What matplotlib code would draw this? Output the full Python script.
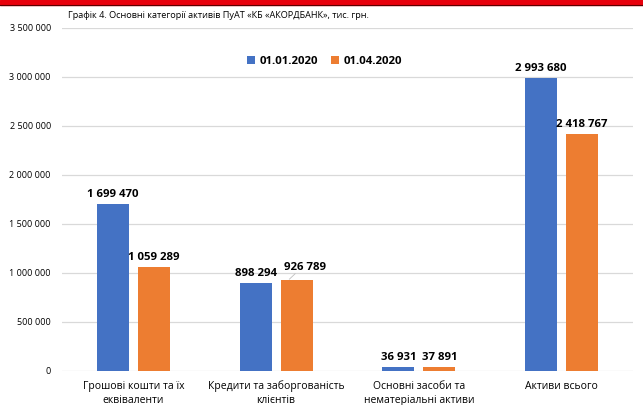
import numpy as np
import matplotlib.pyplot as plt
from matplotlib.patches import Rectangle
from matplotlib.lines import Line2D

categories = ["Грошові кошти та їх\nеквіваленти",
              "Кредити та заборгованість\nклієнтів",
              "Основні засоби та\nнематеріальні активи",
              "Активи всього"]
series_names = ["01.01.2020", "01.04.2020"]
values_jan = [1699470, 898294, 36931, 2993680]
values_apr = [1059289, 926789, 37891, 2418767]
colors = ["#4472C4", "#ED7D31"]
yticks = [0, 500000, 1000000, 1500000, 2000000, 2500000, 3000000, 3500000]


def fmt(v):
    return "{:,}".format(v).replace(",", " ")


plt.rcParams['font.family'] = ['Open Sans', 'DejaVu Sans']

fig = plt.figure(figsize=(6.43, 4.05), dpi=100)
ax = fig.add_axes([0.0964, 0.084, 0.888, 0.847])

# red band on top of page
fig.patches.append(Rectangle((0, 0.988), 1, 0.012, transform=fig.transFigure,
                             color="#E8000B", zorder=0))
fig.lines.append(Line2D([0, 1], [0.987, 0.987], transform=fig.transFigure,
                        color="#5a0000", lw=0.8))

x = np.arange(len(categories))
w = 0.224
off = 0.143
b1 = ax.bar(x - off, values_jan, w, color=colors[0], label=series_names[0], zorder=3)
b2 = ax.bar(x + off, values_apr, w, color=colors[1], label=series_names[1], zorder=3)

lab = dict(fontsize=8.2, fontweight="bold")
for rect, v in zip(b1, values_jan):
    ax.text(rect.get_x() + rect.get_width() / 2, v + 40000, fmt(v),
            ha="center", va="bottom", **lab)
for i, (rect, v) in enumerate(zip(b2, values_apr)):
    cx = rect.get_x() + rect.get_width() / 2
    if i == 1:
        ax.plot([cx - 0.05, cx - 0.01], [v + 10000, v + 65000], color="#bfbfbf", lw=0.6, zorder=4)
        ax.text(cx + 0.06, v + 70000, fmt(v), ha="center", va="bottom", **lab)
    else:
        ax.text(cx, v + 40000, fmt(v), ha="center", va="bottom", **lab)

ax.set_xlim(-0.5, 3.5)
ax.set_ylim(0, 3500000)
ax.set_yticks(yticks)
ax.set_yticklabels([fmt(t) for t in yticks], fontsize=6.5)
ax.set_xticks(x)
ax.set_xticklabels(categories, fontsize=7.5, linespacing=1.35)
ax.tick_params(axis="both", length=0, pad=8)
ax.tick_params(axis="x", pad=7)
ax.grid(axis="y", color="#d9d9d9", lw=0.9, zorder=0)
for s in ax.spines.values():
    s.set_visible(False)

ax.legend(loc="center", bbox_to_anchor=(0.46, 0.903), ncol=2, frameon=False,
          handlelength=0.7, handleheight=0.7, columnspacing=1.2,
          handletextpad=0.4, prop={"weight": "bold", "size": 8.2})

fig.text(0.106, 0.962, "Графік 4. Основні категорії активів ПуАТ «КБ «АКОРДБАНК», тис. грн.",
         fontsize=6.6, va="center", ha="left")

fig.savefig("out.png", dpi=100)
